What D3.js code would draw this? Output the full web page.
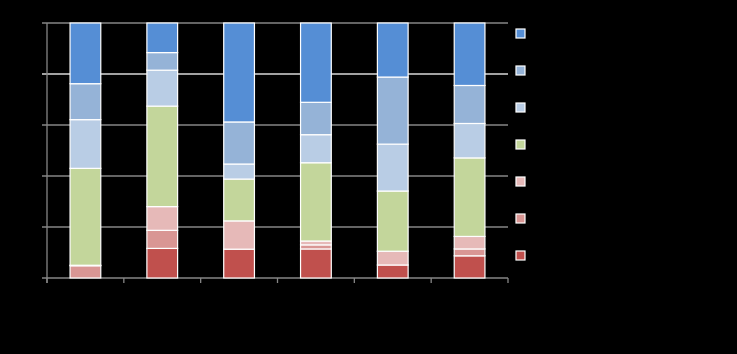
<!DOCTYPE html>
<html><head><meta charset="utf-8">
<script src="https://cdn.jsdelivr.net/npm/d3@7"></script>
<style>html,body{margin:0;padding:0;background:#000;}svg{display:block;}</style>
</head><body>
<svg id="c" width="737" height="354"></svg>
<script>
// Data (percent shares, bottom to top of each stack)
const categories = ["1", "2", "3", "4", "5", "6"];
const seriesNames = ["s1", "s2", "s3", "s4", "s5", "s6", "s7"];
const seriesColors = ["#C0504D", "#D99694", "#E6B9B8", "#C3D69B", "#B9CDE5", "#95B3D7", "#558ED5"];
const s1 = [0, 11.6, 11.3, 11.4, 5.1, 8.7];
const s2 = [4.8, 7.1, 0, 1.6, 0, 2.7];
const s3 = [0.2, 9.3, 11.1, 1.5, 5.4, 4.9];
const s4 = [38.0, 39.4, 16.4, 30.7, 23.6, 30.8];
const s5 = [19.1, 14.1, 5.9, 11.0, 18.4, 13.5];
const s6 = [14.1, 6.9, 16.5, 12.7, 26.3, 14.9];
const s7 = [23.8, 11.6, 38.8, 31.1, 21.2, 24.5];
const yTicks = [0, 20, 40, 60, 80, 100];
const yTickLabels = ["0%", "20%", "40%", "60%", "80%", "100%"];

const seriesValues = [s1, s2, s3, s4, s5, s6, s7];
const table = categories.map((c, i) => {
  const row = {cat: c};
  seriesNames.forEach((s, k) => row[s] = seriesValues[k][i]);
  return row;
});

const svg = d3.select("#c");
const L = 47, R = 508, T = 23, B = 278;
const x = d3.scaleBand().domain(categories).range([L, R]).paddingInner(0.6).paddingOuter(0.3);
const y = d3.scaleLinear().domain([0, 100]).range([B, T]);

// gridlines
svg.append("g").selectAll("line").data(yTicks).join("line")
  .attr("x1", L - 5).attr("x2", R).attr("y1", d => y(d)).attr("y2", d => y(d))
  .attr("stroke", d => d === 80 ? "#d9d9d9" : "#868686").attr("stroke-width", 1.3);

// y axis line
svg.append("line").attr("x1", L).attr("x2", L).attr("y1", T).attr("y2", B + 5)
  .attr("stroke", "#868686").attr("stroke-width", 1.3);

// x axis ticks at category boundaries
const bounds = categories.map(c => x(c) - x.step() * x.paddingInner() / 2).concat([R]);
bounds[0] = L;
svg.append("g").selectAll("line").data(bounds).join("line")
  .attr("x1", d => d).attr("x2", d => d).attr("y1", B).attr("y2", B + 5)
  .attr("stroke", "#868686").attr("stroke-width", 1.3);

// y tick labels (black, as in reference)
svg.append("g").selectAll("text").data(yTicks).join("text")
  .attr("x", L - 8).attr("y", d => y(d)).attr("dy", "0.35em")
  .attr("text-anchor", "end").attr("font-family", "Liberation Sans, Arial, sans-serif")
  .attr("font-size", 10).attr("fill", "#000").text((d, i) => yTickLabels[i]);

// stacked bars
const stack = d3.stack().keys(seriesNames)(table);
svg.append("g").selectAll("g").data(stack).join("g")
  .attr("fill", (d, k) => seriesColors[k])
  .selectAll("rect").data(d => d).join("rect")
  .attr("x", d => x(d.data.cat))
  .attr("width", x.bandwidth())
  .attr("y", d => y(d[1]))
  .attr("height", d => Math.max(0, y(d[0]) - y(d[1])))
  .attr("stroke", "#fff").attr("stroke-width", 1.2);

// legend (reversed order, Excel style)
const legendOrder = seriesNames.map((s, k) => k).reverse();
const lg = svg.append("g").selectAll("g").data(legendOrder).join("g")
  .attr("transform", (k, i) => `translate(516,${29 + i * 37})`);
lg.append("rect").attr("width", 9).attr("height", 9)
  .attr("fill", k => seriesColors[k]).attr("stroke", "#fff").attr("stroke-width", 1.2);
</script>
</body></html>
